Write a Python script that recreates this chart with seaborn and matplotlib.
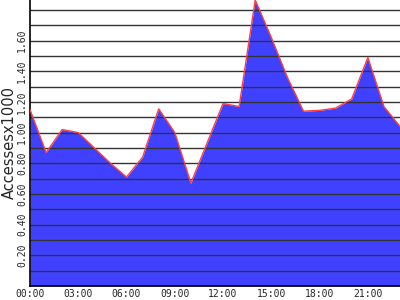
import numpy as np
import pandas as pd
import matplotlib
matplotlib.use("Agg")
import matplotlib.pyplot as plt
import seaborn as sns

hours = list(range(24))
accesses = [1.15, 0.87, 1.02, 1.00, 0.90, 0.80, 0.71, 0.84, 1.155, 1.00, 0.67, 0.93,
            1.19, 1.17, 1.865, 1.62, 1.36, 1.14, 1.145, 1.16, 1.22, 1.49, 1.17, 1.04]
xtick_pos = [0, 3, 6, 9, 12, 15, 18, 21]
xtick_labels = ["00:00", "03:00", "06:00", "09:00", "12:00", "15:00", "18:00", "21:00"]
ytick_pos = [0.2, 0.4, 0.6, 0.8, 1.0, 1.2, 1.4, 1.6]
ytick_labels = ["0.20", "0.40", "0.60", "0.80", "1.00", "1.20", "1.40", "1.60"]
grid_levels = [round(0.1 * i, 1) for i in range(1, 19)]

df = pd.DataFrame({"hour": hours, "accesses": accesses})

sns.set_style("white")
fig = plt.figure(figsize=(4, 3), dpi=100)
ax = fig.add_axes([0.075, 0.047, 0.925, 0.953])

ax.fill_between(df["hour"], 0, df["accesses"], color="#4040ff", linewidth=0, zorder=1)
for g in grid_levels:
    ax.axhline(g, color="#333333", linewidth=1.0, zorder=2)
sns.lineplot(data=df, x="hour", y="accesses", color="#ff4040", linewidth=1.0, ax=ax, zorder=3)

ax.set_xlim(0, 23)
ax.set_ylim(0, max(accesses))
ax.set_xticks(xtick_pos)
ax.set_xticklabels(xtick_labels, fontfamily="DejaVu Sans Mono", fontsize=7)
ax.set_yticks(ytick_pos)
ax.set_yticklabels(ytick_labels, fontfamily="DejaVu Sans Mono", fontsize=7, rotation=90, va="center")
ax.tick_params(axis="both", length=0, pad=2)
ax.set_xlabel("")
ax.set_ylabel("Accessesx1000", fontfamily="DejaVu Sans", fontsize=10.5)
ax.yaxis.set_label_coords(-0.036, 0.5)
for s in ["top", "right"]:
    ax.spines[s].set_visible(False)
for s in ["left", "bottom"]:
    ax.spines[s].set_color("black")
    ax.spines[s].set_linewidth(1.2)
ax.grid(False)

fig.savefig("out.png", dpi=100)
